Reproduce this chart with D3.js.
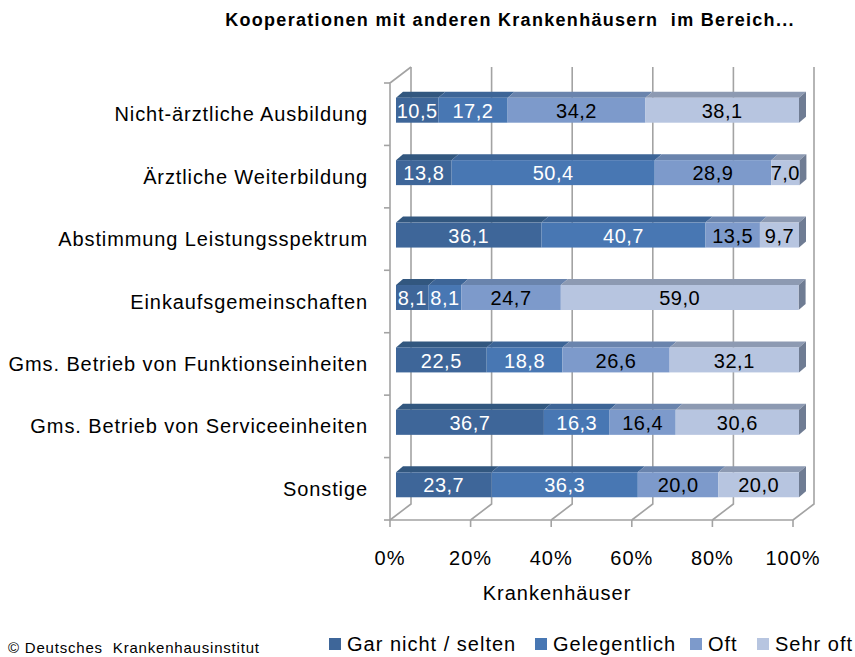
<!DOCTYPE html>
<html>
<head>
<meta charset="utf-8">
<script src="https://cdn.jsdelivr.net/npm/d3@7"></script>
<style>
  body { margin: 0; background: #fff; }
  svg { display: block; }
  text { font-family: "Liberation Sans", Arial, sans-serif; white-space: pre; }
</style>
</head>
<body>
<svg id="chart" width="855" height="657"></svg>
<script>
const categories = [
  "Nicht-ärztliche Ausbildung",
  "Ärztliche Weiterbildung",
  "Abstimmung Leistungsspektrum",
  "Einkaufsgemeinschaften",
  "Gms. Betrieb von Funktionseinheiten",
  "Gms. Betrieb von Serviceeinheiten",
  "Sonstige"
]
const seriesNames = ["Gar nicht / selten", "Gelegentlich", "Oft", "Sehr oft"]
const garNicht     = [10.5, 13.8, 36.1,  8.1, 22.5, 36.7, 23.7]
const gelegentlich = [17.2, 50.4, 40.7,  8.1, 18.8, 16.3, 36.3]
const oft          = [34.2, 28.9, 13.5, 24.7, 26.6, 16.4, 20.0]
const sehrOft      = [38.1,  7.0,  9.7, 59.0, 32.1, 30.6, 20.0]
const xTicks = [0, 20, 40, 60, 80, 100]

const colors = {
  front: ["#3e6699", "#4877b3", "#7d9acb", "#b7c5e0"],
  top:   ["#32577f", "#3d6597", "#6a84ad", "#8d9ab2"],
  side:  ["#2d4a6c", "#375a86", "#5e7396", "#6f7c93"]
}
const labelColors = ["#fff", "#fff", "#000", "#000"]

const rows = categories.map((c, i) => ({
  cat: c,
  [seriesNames[0]]: garNicht[i],
  [seriesNames[1]]: gelegentlich[i],
  [seriesNames[2]]: oft[i],
  [seriesNames[3]]: sehrOft[i]
}))

const svg = d3.select("#chart")

// 3d geometry: back wall offset, bar front / back depth
const depth = {dx: 21, dy: -16}
const barF = {dx: 6, dy: -4}
const barB = {dx: 13, dy: -10}

const x = d3.scaleLinear().domain([0, 100]).range([390, 793])
const y = d3.scaleBand().domain(categories).range([83, 520])
  .paddingInner(0.6).paddingOuter(0.3)

const grid = svg.append("g")
  .attr("stroke", "#a3a3a3")
  .attr("stroke-width", 1.6)
  .attr("fill", "none")

// back wall gridlines + floor diagonals
xTicks.forEach(t => {
  grid.append("path")
    .attr("d", `M${x(t)},520 L${x(t) + depth.dx},${520 + depth.dy} L${x(t) + depth.dx},${83 + depth.dy}`)
})
// left wall top edge + left axis
grid.append("path")
  .attr("d", `M${x(0) + depth.dx},${83 + depth.dy} L${x(0)},83 L${x(0)},520 L${x(100)},520`)

// left axis ticks
const bounds = categories.map(c => y(c) - y.step() * y.paddingInner() / 2)
bounds.push(520)
bounds[0] = 83
grid.selectAll("line.ytick")
  .data(bounds)
  .join("line")
  .attr("x1", x(0) - 6).attr("x2", x(0))
  .attr("y1", d => d).attr("y2", d => d)

// bottom axis ticks
grid.selectAll("line.xtick")
  .data(xTicks)
  .join("line")
  .attr("x1", d => x(d)).attr("x2", d => x(d))
  .attr("y1", 520).attr("y2", 527)

svg.append("g")
  .selectAll("text")
  .data(xTicks)
  .join("text")
  .attr("x", d => x(d))
  .attr("y", 565)
  .attr("text-anchor", "middle")
  .attr("font-size", 20)
  .attr("letter-spacing", 1)
  .text(d => d + "%")

svg.append("text")
  .attr("x", 557).attr("y", 600)
  .attr("text-anchor", "middle")
  .attr("font-size", 20)
  .attr("letter-spacing", 1)
  .text("Krankenhäuser")

// category labels
svg.append("g")
  .selectAll("text")
  .data(categories)
  .join("text")
  .attr("x", 368)
  .attr("y", d => y(d) + y.bandwidth() / 2)
  .attr("dy", "0.35em")
  .attr("text-anchor", "end")
  .attr("font-size", 20)
  .attr("letter-spacing", 0.9)
  .text(d => d)

// bars
const stack = d3.stack().keys(seriesNames)(rows)
const fmt = v => d3.format(".1f")(v).replace(".", ",")

const bars = svg.append("g")
stack.forEach((layer, si) => {
  layer.forEach(d => {
    const cat = d.data.cat
    const x0 = x(d[0]), x1 = x(d[1])
    const yt = y(cat), yb = y(cat) + y.bandwidth()
    const g = bars.append("g")
    g.append("path")
      .attr("fill", colors.top[si])
      .attr("d", `M${x0 + barF.dx},${yt + barF.dy} L${x0 + barB.dx},${yt + barB.dy} L${x1 + barB.dx},${yt + barB.dy} L${x1 + barF.dx},${yt + barF.dy}Z`)
    if (si === seriesNames.length - 1) {
      g.append("path")
        .attr("fill", colors.side[si])
        .attr("d", `M${x1 + barF.dx},${yt + barF.dy} L${x1 + barB.dx},${yt + barB.dy} L${x1 + barB.dx},${yb + barB.dy} L${x1 + barF.dx},${yb + barF.dy}Z`)
    }
    g.append("rect")
      .attr("fill", colors.front[si])
      .attr("x", x0 + barF.dx)
      .attr("y", yt + barF.dy)
      .attr("width", x1 - x0)
      .attr("height", y.bandwidth())
  })
})
stack.forEach((layer, si) => {
  layer.forEach(d => {
    const cat = d.data.cat
    bars.append("text")
      .attr("x", (x(d[0]) + x(d[1])) / 2 + barF.dx)
      .attr("y", y(cat) + y.bandwidth() / 2 + barF.dy)
      .attr("dy", "0.38em")
      .attr("text-anchor", "middle")
      .attr("font-size", 20)
      .attr("letter-spacing", 0.5)
      .attr("fill", labelColors[si])
      .text(fmt(d[1] - d[0]))
  })
})

// title
svg.append("text")
  .attr("x", 510).attr("y", 26)
  .attr("text-anchor", "middle")
  .attr("font-size", 18)
  .attr("font-weight", "bold")
  .attr("letter-spacing", 1.3)
  .text("Kooperationen mit anderen Krankenhäusern  im Bereich...")

// legend
const legendX = [329, 535, 690, 757]
const legend = svg.append("g")
seriesNames.forEach((s, i) => {
  legend.append("rect")
    .attr("x", legendX[i]).attr("y", 638)
    .attr("width", 12).attr("height", 12)
    .attr("fill", colors.front[i])
  legend.append("text")
    .attr("x", legendX[i] + 18).attr("y", 651)
    .attr("font-size", 20)
    .attr("letter-spacing", 1)
    .text(s)
})

svg.append("text")
  .attr("x", 8).attr("y", 653)
  .attr("font-size", 15)
  .attr("letter-spacing", 0.8)
  .text("© Deutsches  Krankenhausinstitut")
</script>
</body>
</html>
